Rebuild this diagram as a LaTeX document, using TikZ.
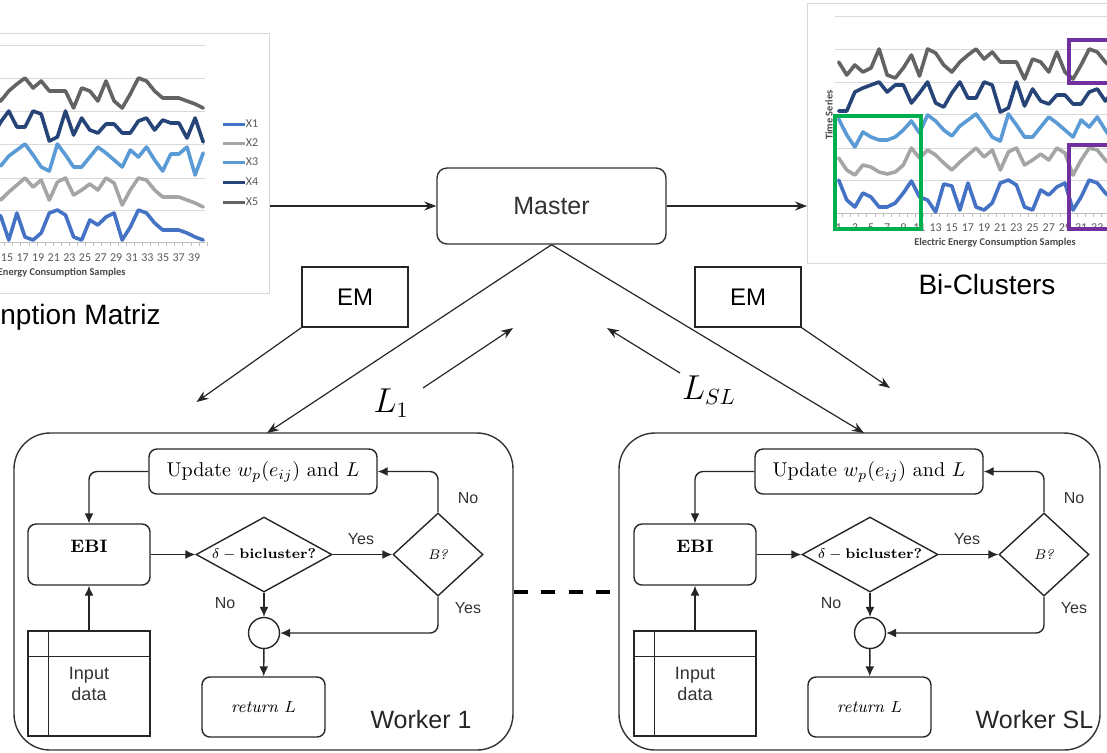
\documentclass[tikz,border=0pt]{standalone}
\usepackage{fontspec}
\newfontfamily\arialfont{Liberation Sans}
\newfontfamily\calibrifont{Carlito}
\usetikzlibrary{shapes.geometric,arrows.meta,calc}

\definecolor{sone}{HTML}{4472C4}
\definecolor{stwo}{HTML}{A5A5A5}
\definecolor{sthree}{HTML}{5B9BD5}
\definecolor{sfour}{HTML}{264478}
\definecolor{sfive}{HTML}{636363}
\definecolor{gridgray}{HTML}{D9D9D9}
\definecolor{axisgray}{HTML}{BFBFBF}
\definecolor{labelgray}{HTML}{595959}
\definecolor{bigreen}{HTML}{00B050}
\definecolor{bipurple}{HTML}{7030A0}

% consumption samples of the five time series (offset inside each band)
\def\done{0,20,27,13,17,27,27,23,13,1,17,20,32,4,6,30,3,27,30,23,3,0,5,27,30,10,15,7,3,30,17,0,3,13,20,20,20,23,27,30}
\def\dtwo{10,22,27,17,19,24,26,24,17,0,10,2,7,15,22,14,7,0,9,2,22,4,0,17,12,6,12,0,5,27,12,0,2,12,19,19,19,22,25,29}
\def\dthree{5,21,33,18,23,26,26,23,16,7,19,1,7,16,22,12,6,0,11,23,27,0,11,23,23,13,3,9,16,23,6,13,3,16,27,10,10,3,31,9}
\def\dfour{29,29,10,6,3,0,10,3,3,21,11,0,21,25,11,0,16,16,0,3,30,26,0,24,7,19,22,13,13,22,22,10,7,19,9,12,12,27,7,31}
\def\dfive{13,26,16,23,19,0,26,29,19,6,27,0,4,16,23,13,6,0,10,3,13,13,13,30,10,13,23,3,23,30,16,0,3,13,20,20,20,23,26,30}

% #1 name, #2 colour, #3 x of sample 0, #4 step, #5 band top, #6 data
\newcommand\plotseries[6]{%
  \foreach \v [count=\k] in #6 {\coordinate (#1-\k) at ({#3+#4*\k},{#5+\v});}
  \draw[serie,#2] (#1-1) \foreach \k in {2,...,40} { -- (#1-\k) };
}

\begin{document}
\begin{tikzpicture}[x=0.5pt,y=-0.5pt,
  serie/.style={line width=1.8pt, line join=round, line cap=round},
  gridline/.style={draw=gridgray, line width=0.5pt},
  axisline/.style={draw=axisgray, line width=0.5pt},
  chartframe/.style={draw=gridgray, line width=0.5pt, inner sep=0pt},
  ticktxt/.style={font=\calibrifont\fontsize{6}{7}\selectfont, text=labelgray, inner sep=0pt},
  axistitle/.style={font=\calibrifont\bfseries\fontsize{5.2}{6}\selectfont, text=labelgray!80!black, inner sep=0pt},
  caption/.style={font=\arialfont\fontsize{14}{16}\selectfont, inner sep=0pt},
  mbox/.style={draw=black!80, rounded corners=5pt, minimum width=114.5pt, minimum height=38pt,
    line width=0.7pt, inner sep=0pt, font=\arialfont\fontsize{12.5}{15}\selectfont, text=black!80},
  embox/.style={draw=black!85, minimum width=53pt, minimum height=30pt, line width=0.7pt,
    inner sep=0pt, font=\arialfont\fontsize{12}{14}\selectfont},
  wbox/.style={draw=black!80, rounded corners=18pt, minimum height=158.5pt, line width=0.7pt, inner sep=0pt},
  wlabel/.style={font=\arialfont\fontsize{12.5}{15}\selectfont, text=black!85, inner sep=0pt},
  fbox/.style={draw=black!85, rounded corners=4pt, line width=0.7pt, inner sep=0pt},
  dec/.style={draw=black!85, diamond, line width=0.7pt, inner sep=0pt},
  thinline/.style={draw=black!85, line width=0.7pt},
  flow/.style={draw=black!85, line width=0.6pt, -{Stealth[length=6pt,width=4.5pt]}},
  inflow/.style={draw=black!85, line width=0.7pt, rounded corners=4pt, -{Latex[length=5pt,width=4.5pt]}},
  yn/.style={font=\arialfont\fontsize{8}{9.6}\selectfont, text=black!80, inner sep=0pt},
  mathlab/.style={inner sep=0pt, font=\fontsize{16}{19}\selectfont},
  dashline/.style={draw=black, line width=2pt, dash pattern=on 7pt off 6.75pt}]

\path[use as bounding box] (0,0) rectangle (1107,752);
\clip (0,0) rectangle (1107,752);

% ---------- consumption matrix chart ----------
\node[chartframe, anchor=north east, minimum width=140pt, minimum height=130pt] (cmat) at (270,33) {};
\foreach \y in {45,78,111,144,178,210} \draw[gridline] (-10,\y) -- (205,\y);
\draw[axisline] (-10,242) -- (205,242);
\foreach \k in {15,...,40} \draw[axisline] ({-120.8+8.1*\k+4.05},242) -- ++(0,4);
\plotseries{La}{sone}{-120.8}{8.1}{210}{\done}
\plotseries{Lb}{stwo}{-120.8}{8.1}{178}{\dtwo}
\plotseries{Lc}{sthree}{-120.8}{8.1}{144}{\dthree}
\plotseries{Ld}{sfour}{-120.8}{8.1}{111}{\dfour}
\plotseries{Le}{sfive}{-120.8}{8.1}{78}{\dfive}
\foreach \k in {15,17,...,39} \node[ticktxt] (tl\k) at ({7+(\k-15)*7.8},258) {\k};
\node[axistitle, anchor=east] (cmatx) at (126,273) {Energy Consumption Samples};
\foreach \c/\n/\y in {sone/X1/124, stwo/X2/143, sthree/X3/162, sfour/X4/182, sfive/X5/202}{
  \draw[\c, line width=1.5pt] (223,\y) -- (245,\y);
  \node[ticktxt, anchor=west] (lg\n) at (245.5,\y) {\n};
}
\node[caption, anchor=west] (cmatcap) at (0,317) {nption Matriz};

% ---------- bi-cluster chart ----------
\node[chartframe, anchor=north west, minimum width=154pt, minimum height=130pt] (cbic) at (807,3) {};
\foreach \y in {16,49,82,114,148,180} \draw[gridline] (835,\y) -- (1115,\y);
\draw[axisline] (835,213) -- (1115,213);
\foreach \k in {1,...,35} \draw[axisline] ({830.6+8.08*\k-4.04},213) -- ++(0,4);
\plotseries{Ra}{sone}{830.6}{8.08}{180}{\done}
\plotseries{Rb}{stwo}{830.6}{8.08}{148}{\dtwo}
\plotseries{Rc}{sthree}{830.6}{8.08}{114}{\dthree}
\plotseries{Rd}{sfour}{830.6}{8.08}{82}{\dfour}
\plotseries{Re}{sfive}{830.6}{8.08}{49}{\dfive}
\foreach \k in {1,3,...,33} \node[ticktxt] (tr\k) at ({830.6+8.08*\k},228) {\k};
\node[axistitle] (cbicx) at (995,243) {Electric Energy Consumption Samples};
\node[axistitle, rotate=90] (cbicy) at (829,115) {Time Series};
\draw[bigreen, line width=2pt] (835,116) rectangle (921,229);
\draw[bipurple, line width=2pt] (1125,40) -- (1069,40) -- (1069,83) -- (1125,83);
\draw[bipurple, line width=2pt] (1125,145) -- (1069,145) -- (1069,229) -- (1125,229);
\node[caption] (cbiccap) at (987,284) {Bi-Clusters};

% ---------- master and messages ----------
\node[mbox] (master) at (551.5,206) {Master};
\node[embox] (emL) at (355,297) {EM};
\node[embox] (emR) at (748,297) {EM};
\draw[flow] (cmat.east |- master.west) -- (master.west);
\draw[flow] (master.east) -- (master.east -| cbic.west);

\node[wbox, minimum width=249.5pt] (w1) at (263.5,591.5) {};
\node[wbox, minimum width=240.5pt] (wsl) at (859.5,591.5) {};
\node[wlabel] (w1lab) at (421,720) {Worker 1};
\node[wlabel] (wsllab) at (1034.5,720) {Worker SL};

\coordinate (w1in) at (267,433);
\coordinate (wslin) at (864,433);
\coordinate (emLout) at (196.5,402);
\coordinate (emRout) at (890,388);
\coordinate (lonefrom) at (423,388);
\coordinate (loneto) at (513,328);
\coordinate (lslfrom) at (680,373);
\coordinate (lslto) at (607,328);
\draw[flow] (master.south) -- (w1in);
\draw[flow] (master.south) -- (wslin);
\draw[flow] (emL.south west) -- (emLout);
\draw[flow] (emR.south east) -- (emRout);
\draw[flow] (lonefrom) -- (loneto);
\draw[flow] (lslfrom) -- (lslto);
\node[mathlab] (lone) at (391,403) {$L_1$};
\node[mathlab] (lsl) at (709,390) {$L_{SL}$};

\draw[dashline] (w1.east) -- (wsl.west);

% ---------- flow inside each worker ----------
\foreach \p/\dx in {a/0,b/606}{
\begin{scope}[shift={(\dx,0)}]
  \node[fbox, minimum width=114pt, minimum height=22.5pt] (upd\p) at (263,471.5)
    {\fontsize{10}{12}\selectfont Update $w_p(e_{ij})$ and $L$};
  \node[fbox, minimum width=61pt, minimum height=30.5pt, text height=6.2pt, text depth=8.5pt] (ebi\p) at (89,554.5)
    {\fontsize{9}{11}\selectfont\textbf{EBI}};
  \node[dec, minimum width=68pt, minimum height=37.5pt, shape aspect=1.8] (dlt\p) at (264,554.5)
    {\fontsize{7}{8}\selectfont$\delta-\textbf{bicluster?}$};
  \node[dec, minimum width=45pt, minimum height=41.5pt] (bq\p) at (438,554.5)
    {\fontsize{7}{8}\selectfont\textit{B?}};
  \node[circle, draw=black!85, minimum size=15.5pt, inner sep=0pt, line width=0.7pt] (mrg\p) at (264,633) {};
  \node[fbox, minimum width=61.5pt, minimum height=30pt] (ret\p) at (263.5,707)
    {\fontsize{8.5}{10}\selectfont\textit{return} $L$};
  \node[draw=black!85, minimum width=61pt, minimum height=52.5pt, inner sep=0pt, line width=0.7pt,
    align=center, text=black!80, font=\arialfont\fontsize{9}{10.5}\selectfont] (inp\p) at (89,683.5) {Input\\data};
  \draw[thinline] ([xshift=10.5pt]inp\p.north west) -- ([xshift=10.5pt]inp\p.south west);
  \draw[thinline] ([yshift=-13pt]inp\p.north west) -- ([yshift=-13pt]inp\p.north east);
  \draw[inflow] (inp\p) -- (ebi\p);
  \draw[inflow] (ebi\p) -- (dlt\p);
  \draw[inflow] (dlt\p) -- (bq\p);
  \draw[inflow] (dlt\p) -- (mrg\p);
  \draw[inflow] (mrg\p) -- (ret\p);
  \draw[inflow] (bq\p.north) |- (upd\p.east);
  \draw[inflow] (bq\p.south) |- (mrg\p.east);
  \draw[inflow] (upd\p.west) -| (ebi\p.north);
  \node[yn] (yesa\p) at (361,539) {Yes};
  \node[yn] (noa\p) at (468,498) {No};
  \node[yn] (yesb\p) at (468,608) {Yes};
  \node[yn] (nob\p) at (225,603) {No};
\end{scope}}
\end{tikzpicture}
\end{document}
